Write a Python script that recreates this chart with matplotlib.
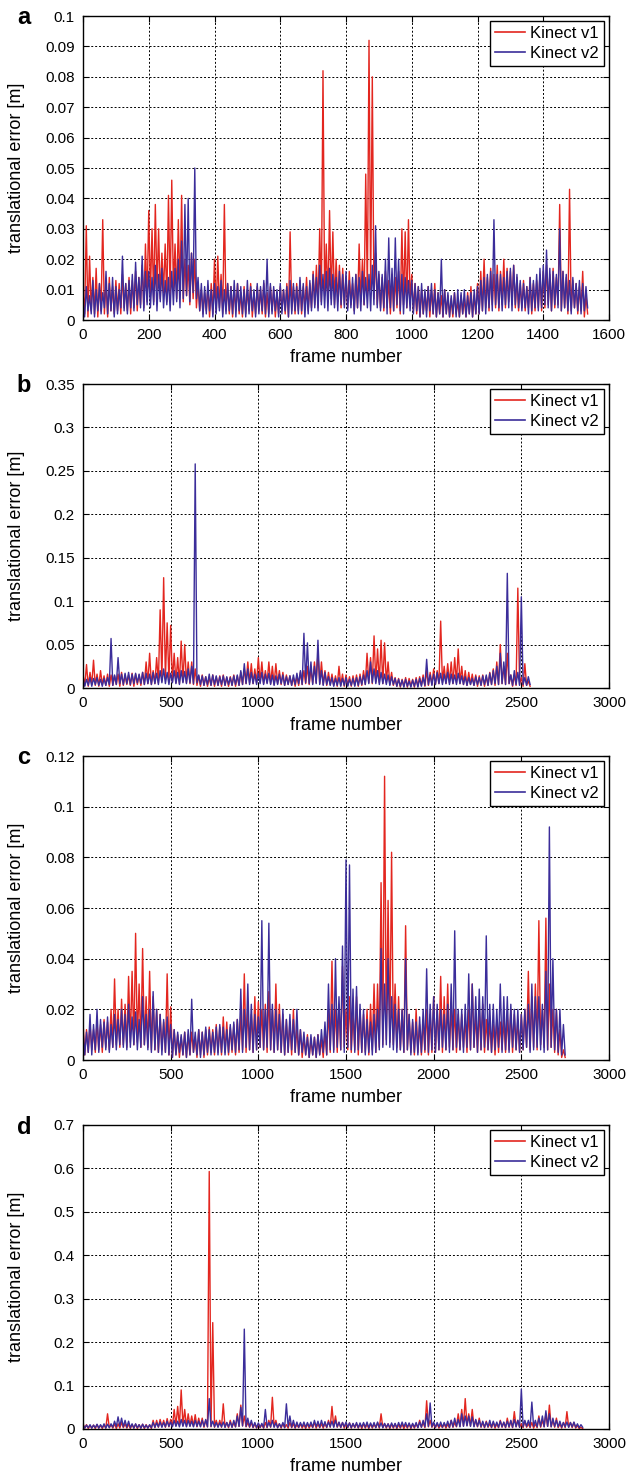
import numpy as np
import matplotlib
matplotlib.use("Agg")
import matplotlib.pyplot as plt
import matplotlib.ticker as ticker

plt.rcParams['font.family'] = ['Liberation Sans', 'DejaVu Sans']

# translational error [m] read off the figure as the upper (hi) and lower (lo)
# edge of each series inside consecutive frame bins
# panel a: bins of 10 frames
a_bin = 10
a_v1_hi = [0.009, 0.031, 0.021, 0.014, 0.017, 0.012, 0.033, 0.012, 0.014, 0.011,
           0.013, 0.012, 0.015, 0.012, 0.014, 0.013, 0.016, 0.014, 0.018, 0.025,
           0.036, 0.030, 0.038, 0.030, 0.022, 0.025, 0.041, 0.046, 0.025, 0.033,
           0.041, 0.020, 0.018, 0.022, 0.020, 0.012, 0.010, 0.009, 0.011, 0.012,
           0.020, 0.021, 0.015, 0.038, 0.012, 0.011, 0.010, 0.012, 0.009, 0.011,
           0.010, 0.012, 0.009, 0.011, 0.010, 0.012, 0.009, 0.011, 0.010, 0.009,
           0.011, 0.010, 0.012, 0.029, 0.011, 0.012, 0.013, 0.011, 0.014, 0.012,
           0.016, 0.018, 0.030, 0.082, 0.025, 0.036, 0.029, 0.020, 0.018, 0.017,
           0.014, 0.016, 0.012, 0.015, 0.025, 0.020, 0.048, 0.092, 0.080, 0.022,
           0.015, 0.014, 0.016, 0.013, 0.015, 0.014, 0.016, 0.030, 0.029, 0.033,
           0.015, 0.012, 0.011, 0.010, 0.009, 0.011, 0.010, 0.012, 0.009, 0.008,
           0.010, 0.008, 0.007, 0.009, 0.006, 0.008, 0.007, 0.009, 0.011, 0.008,
           0.012, 0.016, 0.020, 0.014, 0.017, 0.015, 0.018, 0.016, 0.020, 0.017,
           0.016, 0.018, 0.014, 0.012, 0.013, 0.011, 0.014, 0.012, 0.013, 0.015,
           0.016, 0.018, 0.015, 0.017, 0.014, 0.038, 0.016, 0.014, 0.043, 0.013,
           0.012, 0.011, 0.016, 0.008]
a_v1_lo = [0.002, 0.001, 0.003, 0.002, 0.001, 0.003, 0.002, 0.001, 0.003, 0.002,
           0.003, 0.002, 0.004, 0.003, 0.002, 0.004, 0.003, 0.005, 0.004, 0.006,
           0.008, 0.006, 0.010, 0.007, 0.009, 0.006, 0.008, 0.010, 0.007, 0.009,
           0.006, 0.008, 0.005, 0.007, 0.004, 0.003, 0.002, 0.003, 0.001, 0.002,
           0.003, 0.004, 0.002, 0.003, 0.002, 0.001, 0.003, 0.002, 0.001, 0.002,
           0.003, 0.001, 0.002, 0.003, 0.002, 0.001, 0.002, 0.003, 0.001, 0.002,
           0.003, 0.002, 0.001, 0.003, 0.002, 0.003, 0.002, 0.004, 0.003, 0.004,
           0.005, 0.004, 0.006, 0.008, 0.006, 0.007, 0.005, 0.006, 0.004, 0.005,
           0.004, 0.005, 0.003, 0.004, 0.006, 0.005, 0.008, 0.010, 0.007, 0.005,
           0.004, 0.003, 0.004, 0.002, 0.003, 0.004, 0.002, 0.005, 0.004, 0.006,
           0.003, 0.002, 0.001, 0.002, 0.003, 0.001, 0.002, 0.001, 0.002, 0.001,
           0.002, 0.001, 0.001, 0.002, 0.001, 0.002, 0.001, 0.002, 0.001, 0.002,
           0.002, 0.003, 0.004, 0.003, 0.005, 0.004, 0.003, 0.005, 0.004, 0.006,
           0.005, 0.004, 0.003, 0.004, 0.003, 0.004, 0.002, 0.003, 0.004, 0.003,
           0.004, 0.005, 0.003, 0.004, 0.005, 0.003, 0.004, 0.002, 0.003, 0.004,
           0.002, 0.003, 0.001, 0.002]
a_v2_hi = [0.006, 0.011, 0.008, 0.013, 0.010, 0.012, 0.009, 0.016, 0.012, 0.014,
           0.011, 0.010, 0.021, 0.012, 0.013, 0.015, 0.019, 0.014, 0.021, 0.016,
           0.016, 0.014, 0.018, 0.015, 0.017, 0.013, 0.014, 0.016, 0.017, 0.020,
           0.026, 0.038, 0.040, 0.022, 0.050, 0.014, 0.012, 0.011, 0.013, 0.010,
           0.012, 0.011, 0.013, 0.010, 0.012, 0.011, 0.013, 0.012, 0.011, 0.010,
           0.013, 0.011, 0.010, 0.012, 0.011, 0.013, 0.020, 0.012, 0.011, 0.010,
           0.012, 0.010, 0.011, 0.013, 0.012, 0.011, 0.014, 0.012, 0.011, 0.013,
           0.015, 0.014, 0.018, 0.015, 0.016, 0.017, 0.015, 0.014, 0.016, 0.015,
           0.016, 0.013, 0.014, 0.015, 0.014, 0.016, 0.014, 0.015, 0.018, 0.031,
           0.016, 0.015, 0.020, 0.027, 0.017, 0.027, 0.020, 0.015, 0.014, 0.013,
           0.013, 0.012, 0.011, 0.012, 0.010, 0.011, 0.012, 0.010, 0.009, 0.020,
           0.010, 0.009, 0.008, 0.009, 0.010, 0.009, 0.010, 0.008, 0.009, 0.010,
           0.011, 0.013, 0.014, 0.015, 0.016, 0.033, 0.015, 0.015, 0.014, 0.016,
           0.017, 0.018, 0.015, 0.013, 0.012, 0.011, 0.014, 0.013, 0.015, 0.017,
           0.018, 0.023, 0.017, 0.016, 0.015, 0.030, 0.016, 0.015, 0.013, 0.014,
           0.012, 0.013, 0.012, 0.011]
a_v2_lo = [0.001, 0.003, 0.002, 0.001, 0.003, 0.002, 0.004, 0.002, 0.003, 0.001,
           0.002, 0.004, 0.003, 0.002, 0.004, 0.003, 0.005, 0.004, 0.003, 0.005,
           0.004, 0.005, 0.003, 0.006, 0.004, 0.005, 0.003, 0.005, 0.006, 0.004,
           0.007, 0.008, 0.006, 0.009, 0.007, 0.003, 0.001, 0.002, 0.003, 0.001,
           0.002, 0.003, 0.001, 0.002, 0.003, 0.002, 0.001, 0.003, 0.002, 0.001,
           0.002, 0.003, 0.001, 0.002, 0.003, 0.002, 0.001, 0.002, 0.003, 0.001,
           0.002, 0.003, 0.001, 0.002, 0.003, 0.002, 0.003, 0.001, 0.002, 0.003,
           0.004, 0.003, 0.005, 0.004, 0.003, 0.005, 0.004, 0.003, 0.005, 0.004,
           0.003, 0.004, 0.002, 0.004, 0.003, 0.005, 0.004, 0.003, 0.005, 0.004,
           0.003, 0.004, 0.002, 0.004, 0.003, 0.005, 0.003, 0.002, 0.004, 0.003,
           0.002, 0.003, 0.001, 0.002, 0.001, 0.003, 0.002, 0.001, 0.002, 0.001,
           0.002, 0.001, 0.002, 0.001, 0.001, 0.002, 0.001, 0.002, 0.001, 0.002,
           0.002, 0.003, 0.002, 0.004, 0.003, 0.005, 0.004, 0.003, 0.005, 0.004,
           0.003, 0.005, 0.004, 0.003, 0.004, 0.002, 0.003, 0.004, 0.003, 0.004,
           0.005, 0.004, 0.003, 0.005, 0.004, 0.003, 0.004, 0.003, 0.002, 0.004,
           0.003, 0.002, 0.003, 0.004]

# panel b: bins of 20 frames
b_bin = 20
b_v1_hi = [0.015, 0.027, 0.018, 0.032, 0.016, 0.020, 0.014, 0.016, 0.015, 0.014,
           0.016, 0.018, 0.015, 0.015, 0.017, 0.016, 0.015, 0.018, 0.030, 0.040,
           0.020, 0.035, 0.090, 0.127, 0.075, 0.072, 0.040, 0.035, 0.054, 0.050,
           0.030, 0.030, 0.022, 0.014, 0.015, 0.013, 0.012, 0.015, 0.013, 0.014,
           0.015, 0.012, 0.013, 0.015, 0.014, 0.018, 0.022, 0.030, 0.028, 0.022,
           0.035, 0.030, 0.020, 0.030, 0.025, 0.028, 0.020, 0.018, 0.015, 0.014,
           0.012, 0.013, 0.018, 0.020, 0.025, 0.022, 0.030, 0.040, 0.030, 0.020,
           0.018, 0.016, 0.014, 0.025, 0.016, 0.015, 0.013, 0.014, 0.015, 0.016,
           0.020, 0.040, 0.035, 0.060, 0.045, 0.055, 0.052, 0.030, 0.018, 0.012,
           0.011, 0.010, 0.012, 0.011, 0.010, 0.012, 0.013, 0.015, 0.020, 0.018,
           0.022, 0.020, 0.077, 0.025, 0.028, 0.030, 0.035, 0.045, 0.025, 0.020,
           0.018, 0.016, 0.015, 0.014, 0.015, 0.013, 0.018, 0.022, 0.030, 0.050,
           0.025, 0.040, 0.015, 0.015, 0.115, 0.012, 0.028, 0.008]
b_v1_lo = [0.003, 0.002, 0.004, 0.003, 0.002, 0.004, 0.003, 0.002, 0.003, 0.004,
           0.002, 0.003, 0.004, 0.003, 0.002, 0.004, 0.003, 0.004, 0.005, 0.004,
           0.005, 0.006, 0.008, 0.010, 0.008, 0.007, 0.006, 0.005, 0.007, 0.006,
           0.005, 0.004, 0.003, 0.002, 0.003, 0.002, 0.003, 0.002, 0.003, 0.002,
           0.003, 0.002, 0.003, 0.002, 0.003, 0.004, 0.005, 0.006, 0.005, 0.006,
           0.007, 0.005, 0.006, 0.005, 0.004, 0.005, 0.004, 0.003, 0.004, 0.003,
           0.002, 0.003, 0.004, 0.005, 0.004, 0.005, 0.006, 0.005, 0.004, 0.003,
           0.004, 0.003, 0.002, 0.003, 0.002, 0.003, 0.002, 0.003, 0.002, 0.003,
           0.004, 0.006, 0.005, 0.007, 0.006, 0.005, 0.006, 0.004, 0.003, 0.002,
           0.001, 0.002, 0.001, 0.002, 0.001, 0.002, 0.003, 0.002, 0.003, 0.004,
           0.004, 0.005, 0.006, 0.005, 0.006, 0.005, 0.006, 0.005, 0.004, 0.003,
           0.004, 0.003, 0.002, 0.003, 0.002, 0.003, 0.004, 0.003, 0.004, 0.005,
           0.004, 0.005, 0.002, 0.003, 0.004, 0.002, 0.003, 0.002]
b_v2_hi = [0.012, 0.010, 0.012, 0.011, 0.012, 0.010, 0.011, 0.012, 0.057, 0.015,
           0.035, 0.016, 0.017, 0.018, 0.016, 0.017, 0.016, 0.018, 0.017, 0.016,
           0.018, 0.017, 0.020, 0.022, 0.018, 0.017, 0.020, 0.018, 0.020, 0.019,
           0.022, 0.025, 0.258, 0.015, 0.014, 0.013, 0.016, 0.015, 0.014, 0.013,
           0.014, 0.013, 0.012, 0.014, 0.015, 0.020, 0.028, 0.022, 0.018, 0.016,
           0.017, 0.018, 0.016, 0.017, 0.015, 0.014, 0.016, 0.015, 0.013, 0.014,
           0.015, 0.017, 0.020, 0.063, 0.052, 0.030, 0.025, 0.055, 0.020, 0.018,
           0.013, 0.012, 0.011, 0.012, 0.011, 0.012, 0.010, 0.011, 0.012, 0.013,
           0.015, 0.020, 0.030, 0.022, 0.020, 0.018, 0.016, 0.015, 0.013, 0.011,
           0.010, 0.009, 0.010, 0.008, 0.009, 0.010, 0.011, 0.012, 0.033, 0.015,
           0.016, 0.018, 0.017, 0.016, 0.018, 0.016, 0.015, 0.017, 0.014, 0.013,
           0.012, 0.011, 0.013, 0.012, 0.014, 0.015, 0.017, 0.020, 0.025, 0.040,
           0.030, 0.132, 0.015, 0.020, 0.018, 0.105, 0.012, 0.013]
b_v2_lo = [0.002, 0.003, 0.002, 0.004, 0.003, 0.002, 0.003, 0.004, 0.003, 0.004,
           0.005, 0.004, 0.005, 0.004, 0.005, 0.006, 0.005, 0.004, 0.005, 0.004,
           0.005, 0.004, 0.006, 0.005, 0.004, 0.006, 0.005, 0.004, 0.006, 0.005,
           0.006, 0.005, 0.006, 0.004, 0.003, 0.004, 0.003, 0.004, 0.003, 0.004,
           0.003, 0.004, 0.003, 0.004, 0.003, 0.004, 0.005, 0.004, 0.005, 0.004,
           0.005, 0.004, 0.005, 0.004, 0.003, 0.004, 0.005, 0.003, 0.004, 0.003,
           0.004, 0.005, 0.004, 0.006, 0.005, 0.004, 0.005, 0.004, 0.003, 0.004,
           0.003, 0.002, 0.003, 0.002, 0.003, 0.002, 0.003, 0.002, 0.003, 0.004,
           0.004, 0.005, 0.006, 0.005, 0.004, 0.005, 0.004, 0.003, 0.004, 0.002,
           0.002, 0.001, 0.002, 0.001, 0.002, 0.001, 0.002, 0.003, 0.004, 0.003,
           0.004, 0.005, 0.004, 0.005, 0.004, 0.005, 0.004, 0.005, 0.004, 0.003,
           0.004, 0.003, 0.004, 0.003, 0.004, 0.003, 0.004, 0.005, 0.004, 0.005,
           0.004, 0.005, 0.003, 0.004, 0.003, 0.004, 0.003, 0.004]

# panel c: bins of 20 frames
c_bin = 20
c_v1_hi = [0.015, 0.012, 0.014, 0.012, 0.015, 0.014, 0.016, 0.015, 0.020, 0.032,
           0.020, 0.024, 0.022, 0.033, 0.035, 0.050, 0.030, 0.044, 0.025, 0.035,
           0.025, 0.020, 0.018, 0.015, 0.034, 0.021, 0.012, 0.010, 0.009, 0.011,
           0.010, 0.011, 0.009, 0.012, 0.011, 0.012, 0.013, 0.012, 0.014, 0.013,
           0.017, 0.015, 0.013, 0.014, 0.016, 0.018, 0.034, 0.020, 0.018, 0.025,
           0.023, 0.020, 0.022, 0.027, 0.020, 0.030, 0.022, 0.018, 0.016, 0.015,
           0.020, 0.013, 0.012, 0.009, 0.010, 0.008, 0.009, 0.010, 0.008, 0.011,
           0.020, 0.039, 0.020, 0.022, 0.037, 0.020, 0.025, 0.018, 0.025, 0.020,
           0.018, 0.020, 0.022, 0.030, 0.030, 0.070, 0.112, 0.063, 0.082, 0.030,
           0.025, 0.020, 0.053, 0.018, 0.015, 0.020, 0.014, 0.016, 0.020, 0.018,
           0.025, 0.020, 0.033, 0.025, 0.030, 0.020, 0.020, 0.018, 0.018, 0.016,
           0.020, 0.030, 0.018, 0.020, 0.022, 0.016, 0.015, 0.014, 0.016, 0.015,
           0.016, 0.017, 0.020, 0.018, 0.016, 0.018, 0.020, 0.035, 0.025, 0.030,
           0.055, 0.020, 0.056, 0.030, 0.020, 0.020, 0.012, 0.004]
c_v1_lo = [0.002, 0.003, 0.004, 0.003, 0.004, 0.003, 0.005, 0.004, 0.005, 0.006,
           0.005, 0.006, 0.005, 0.007, 0.006, 0.007, 0.005, 0.006, 0.005, 0.004,
           0.004, 0.003, 0.004, 0.003, 0.002, 0.001, 0.002, 0.001, 0.002, 0.001,
           0.002, 0.003, 0.001, 0.002, 0.001, 0.002, 0.003, 0.002, 0.003, 0.002,
           0.003, 0.002, 0.003, 0.002, 0.003, 0.004, 0.003, 0.004, 0.003, 0.004,
           0.005, 0.004, 0.003, 0.004, 0.003, 0.004, 0.003, 0.002, 0.003, 0.002,
           0.003, 0.002, 0.001, 0.002, 0.001, 0.002, 0.001, 0.002, 0.001, 0.002,
           0.003, 0.004, 0.003, 0.004, 0.005, 0.004, 0.003, 0.004, 0.002, 0.003,
           0.003, 0.002, 0.004, 0.003, 0.005, 0.006, 0.008, 0.007, 0.006, 0.005,
           0.004, 0.003, 0.004, 0.003, 0.002, 0.003, 0.002, 0.003, 0.002, 0.003,
           0.003, 0.004, 0.003, 0.004, 0.005, 0.004, 0.003, 0.004, 0.005, 0.003,
           0.004, 0.005, 0.003, 0.004, 0.003, 0.004, 0.003, 0.002, 0.003, 0.004,
           0.003, 0.004, 0.003, 0.004, 0.003, 0.004, 0.005, 0.004, 0.005, 0.004,
           0.006, 0.005, 0.004, 0.005, 0.003, 0.002, 0.001, 0.001]
c_v2_hi = [0.012, 0.011, 0.018, 0.014, 0.020, 0.016, 0.015, 0.017, 0.014, 0.018,
           0.016, 0.020, 0.018, 0.022, 0.017, 0.019, 0.016, 0.025, 0.018, 0.020,
           0.027, 0.020, 0.018, 0.016, 0.017, 0.014, 0.012, 0.011, 0.010, 0.011,
           0.012, 0.024, 0.011, 0.012, 0.011, 0.013, 0.012, 0.011, 0.013, 0.014,
           0.013, 0.012, 0.014, 0.015, 0.016, 0.028, 0.020, 0.030, 0.022, 0.018,
           0.017, 0.055, 0.020, 0.054, 0.022, 0.020, 0.018, 0.020, 0.016, 0.018,
           0.016, 0.020, 0.012, 0.011, 0.009, 0.010, 0.009, 0.010, 0.012, 0.015,
           0.030, 0.022, 0.040, 0.025, 0.045, 0.079, 0.077, 0.028, 0.029, 0.022,
           0.020, 0.016, 0.015, 0.018, 0.020, 0.044, 0.030, 0.040, 0.025, 0.022,
           0.020, 0.020, 0.040, 0.018, 0.016, 0.015, 0.017, 0.020, 0.036, 0.022,
           0.025, 0.022, 0.020, 0.018, 0.022, 0.030, 0.051, 0.020, 0.020, 0.022,
           0.034, 0.030, 0.025, 0.028, 0.025, 0.049, 0.022, 0.022, 0.020, 0.030,
           0.025, 0.025, 0.022, 0.020, 0.020, 0.018, 0.020, 0.022, 0.030, 0.025,
           0.025, 0.022, 0.035, 0.092, 0.040, 0.020, 0.020, 0.014]
c_v2_lo = [0.002, 0.003, 0.002, 0.004, 0.003, 0.005, 0.004, 0.003, 0.005, 0.004,
           0.006, 0.005, 0.004, 0.005, 0.006, 0.004, 0.005, 0.006, 0.004, 0.003,
           0.004, 0.003, 0.002, 0.003, 0.002, 0.001, 0.002, 0.003, 0.002, 0.001,
           0.002, 0.003, 0.002, 0.001, 0.002, 0.003, 0.002, 0.003, 0.002, 0.003,
           0.002, 0.003, 0.004, 0.003, 0.004, 0.003, 0.005, 0.004, 0.003, 0.004,
           0.005, 0.004, 0.005, 0.004, 0.003, 0.004, 0.003, 0.002, 0.003, 0.004,
           0.003, 0.002, 0.003, 0.002, 0.001, 0.002, 0.001, 0.002, 0.003, 0.002,
           0.004, 0.003, 0.005, 0.004, 0.003, 0.005, 0.004, 0.003, 0.004, 0.003,
           0.002, 0.003, 0.002, 0.003, 0.004, 0.005, 0.006, 0.005, 0.004, 0.003,
           0.004, 0.003, 0.004, 0.002, 0.003, 0.002, 0.003, 0.004, 0.003, 0.004,
           0.003, 0.004, 0.005, 0.004, 0.003, 0.004, 0.005, 0.004, 0.003, 0.005,
           0.004, 0.005, 0.003, 0.004, 0.005, 0.004, 0.003, 0.004, 0.005, 0.003,
           0.004, 0.003, 0.005, 0.004, 0.003, 0.004, 0.005, 0.003, 0.004, 0.005,
           0.004, 0.003, 0.004, 0.005, 0.004, 0.003, 0.002, 0.002]

# panel d: bins of 20 frames
d_bin = 20
d_v1_hi = [0.012, 0.010, 0.008, 0.009, 0.010, 0.008, 0.009, 0.035, 0.010, 0.012,
           0.012, 0.015, 0.012, 0.011, 0.010, 0.011, 0.010, 0.011, 0.010, 0.009,
           0.020, 0.020, 0.022, 0.020, 0.024, 0.022, 0.045, 0.052, 0.090, 0.045,
           0.035, 0.030, 0.033, 0.025, 0.025, 0.020, 0.593, 0.245, 0.020, 0.020,
           0.058, 0.015, 0.020, 0.015, 0.035, 0.055, 0.030, 0.015, 0.015, 0.012,
           0.012, 0.010, 0.015, 0.020, 0.073, 0.020, 0.012, 0.012, 0.010, 0.015,
           0.012, 0.010, 0.012, 0.010, 0.012, 0.011, 0.015, 0.012, 0.012, 0.013,
           0.020, 0.052, 0.030, 0.015, 0.015, 0.012, 0.014, 0.012, 0.012, 0.011,
           0.012, 0.011, 0.012, 0.011, 0.014, 0.035, 0.012, 0.012, 0.011, 0.012,
           0.010, 0.011, 0.010, 0.012, 0.011, 0.012, 0.020, 0.015, 0.065, 0.020,
           0.012, 0.012, 0.010, 0.012, 0.011, 0.020, 0.015, 0.035, 0.045, 0.070,
           0.035, 0.045, 0.020, 0.025, 0.015, 0.018, 0.012, 0.015, 0.012, 0.020,
           0.015, 0.025, 0.018, 0.040, 0.020, 0.012, 0.018, 0.012, 0.015, 0.012,
           0.030, 0.020, 0.035, 0.055, 0.020, 0.025, 0.012, 0.015, 0.040, 0.015,
           0.015, 0.008, 0.004]
d_v1_lo = [0.002, 0.001, 0.002, 0.001, 0.002, 0.001, 0.002, 0.003, 0.002, 0.001,
           0.002, 0.003, 0.002, 0.001, 0.002, 0.001, 0.002, 0.001, 0.002, 0.001,
           0.003, 0.004, 0.005, 0.004, 0.005, 0.006, 0.008, 0.007, 0.008, 0.006,
           0.007, 0.006, 0.005, 0.006, 0.004, 0.005, 0.005, 0.004, 0.005, 0.004,
           0.004, 0.003, 0.004, 0.005, 0.006, 0.007, 0.005, 0.004, 0.003, 0.002,
           0.003, 0.002, 0.003, 0.004, 0.005, 0.003, 0.002, 0.003, 0.002, 0.003,
           0.002, 0.003, 0.002, 0.001, 0.002, 0.003, 0.002, 0.003, 0.002, 0.003,
           0.004, 0.005, 0.004, 0.003, 0.002, 0.003, 0.002, 0.003, 0.002, 0.001,
           0.002, 0.001, 0.002, 0.003, 0.002, 0.003, 0.002, 0.001, 0.002, 0.001,
           0.002, 0.001, 0.002, 0.001, 0.002, 0.003, 0.004, 0.003, 0.005, 0.004,
           0.003, 0.002, 0.003, 0.002, 0.003, 0.004, 0.005, 0.006, 0.007, 0.008,
           0.007, 0.006, 0.005, 0.004, 0.003, 0.004, 0.003, 0.002, 0.003, 0.004,
           0.003, 0.004, 0.003, 0.005, 0.004, 0.003, 0.004, 0.003, 0.002, 0.003,
           0.004, 0.005, 0.006, 0.005, 0.004, 0.003, 0.002, 0.003, 0.004, 0.003,
           0.002, 0.001, 0.001]
d_v2_hi = [0.010, 0.009, 0.010, 0.009, 0.011, 0.010, 0.012, 0.011, 0.012, 0.018,
           0.028, 0.025, 0.020, 0.018, 0.012, 0.012, 0.010, 0.011, 0.009, 0.010,
           0.015, 0.014, 0.016, 0.015, 0.018, 0.016, 0.020, 0.018, 0.022, 0.020,
           0.020, 0.018, 0.020, 0.018, 0.020, 0.022, 0.070, 0.018, 0.015, 0.014,
           0.016, 0.015, 0.016, 0.020, 0.030, 0.050, 0.230, 0.025, 0.020, 0.015,
           0.014, 0.013, 0.045, 0.015, 0.020, 0.014, 0.012, 0.015, 0.058, 0.030,
           0.020, 0.016, 0.015, 0.016, 0.015, 0.016, 0.020, 0.018, 0.020, 0.017,
           0.016, 0.018, 0.020, 0.016, 0.015, 0.016, 0.014, 0.013, 0.015, 0.014,
           0.015, 0.016, 0.014, 0.015, 0.016, 0.014, 0.013, 0.012, 0.014, 0.013,
           0.015, 0.016, 0.015, 0.014, 0.013, 0.015, 0.016, 0.020, 0.035, 0.060,
           0.016, 0.015, 0.016, 0.015, 0.018, 0.020, 0.025, 0.022, 0.035, 0.030,
           0.030, 0.028, 0.022, 0.020, 0.018, 0.016, 0.020, 0.018, 0.016, 0.018,
           0.016, 0.018, 0.020, 0.022, 0.020, 0.092, 0.020, 0.020, 0.062, 0.020,
           0.025, 0.030, 0.042, 0.035, 0.025, 0.020, 0.018, 0.015, 0.016, 0.015,
           0.016, 0.012, 0.010]
d_v2_lo = [0.002, 0.003, 0.002, 0.003, 0.002, 0.003, 0.002, 0.003, 0.004, 0.005,
           0.006, 0.005, 0.004, 0.003, 0.002, 0.003, 0.002, 0.003, 0.002, 0.003,
           0.004, 0.005, 0.004, 0.005, 0.006, 0.005, 0.006, 0.005, 0.006, 0.005,
           0.006, 0.005, 0.006, 0.005, 0.006, 0.005, 0.006, 0.005, 0.004, 0.005,
           0.004, 0.005, 0.004, 0.005, 0.006, 0.007, 0.006, 0.005, 0.004, 0.003,
           0.004, 0.003, 0.004, 0.005, 0.004, 0.003, 0.004, 0.003, 0.005, 0.004,
           0.003, 0.004, 0.005, 0.004, 0.005, 0.004, 0.005, 0.004, 0.005, 0.004,
           0.005, 0.004, 0.005, 0.004, 0.005, 0.004, 0.003, 0.004, 0.003, 0.004,
           0.004, 0.003, 0.004, 0.003, 0.004, 0.003, 0.004, 0.003, 0.004, 0.003,
           0.004, 0.005, 0.004, 0.003, 0.004, 0.003, 0.004, 0.005, 0.006, 0.005,
           0.004, 0.005, 0.004, 0.005, 0.004, 0.005, 0.006, 0.005, 0.006, 0.007,
           0.006, 0.005, 0.006, 0.005, 0.004, 0.005, 0.004, 0.005, 0.004, 0.005,
           0.004, 0.005, 0.004, 0.005, 0.004, 0.005, 0.006, 0.005, 0.006, 0.005,
           0.006, 0.005, 0.006, 0.005, 0.006, 0.005, 0.004, 0.005, 0.004, 0.005,
           0.004, 0.003, 0.004]

panels = [
    ('a', a_bin, a_v1_hi, a_v1_lo, a_v2_hi, a_v2_lo, 1600, 200, 0.1, 0.01),
    ('b', b_bin, b_v1_hi, b_v1_lo, b_v2_hi, b_v2_lo, 3000, 500, 0.35, 0.05),
    ('c', c_bin, c_v1_hi, c_v1_lo, c_v2_hi, c_v2_lo, 3000, 500, 0.12, 0.02),
    ('d', d_bin, d_v1_hi, d_v1_lo, d_v2_hi, d_v2_lo, 3000, 500, 0.7, 0.1),
]

red = '#e3261f'
blue = '#3b2d9a'


def trace(step, hi, lo):
    # hi at the start of each bin, lo in its middle
    f = np.arange(len(hi)) * step
    frames = np.column_stack([f, f + step / 2]).ravel()
    vals = np.column_stack([hi, lo]).ravel()
    return frames, vals


W, H = 626, 1475
fig = plt.figure(figsize=(W / 100, H / 100), dpi=100)
tops = [16, 384, 756, 1125]
ax_h = 304
left, right = 83, 609

for (lab, step, h1, l1, h2, l2, xmax, xstep, ymax, ystep), top in zip(panels, tops):
    ax = fig.add_axes([left / W, 1 - (top + ax_h) / H, (right - left) / W, ax_h / H])
    x1, y1 = trace(step, h1, l1)
    x2, y2 = trace(step, h2, l2)
    ax.plot(x1, y1, color=red, lw=1.0, label='Kinect v1')
    ax.plot(x2, y2, color=blue, lw=1.0, label='Kinect v2')
    ax.set_xlim(0, xmax)
    ax.set_ylim(0, ymax)
    ax.set_xticks(np.arange(0, xmax + 1, xstep))
    ax.set_yticks(np.arange(0, ymax + ystep / 2, ystep))
    ax.yaxis.set_major_formatter(ticker.FuncFormatter(lambda v, p: f"{round(v, 4):g}"))
    ax.grid(True, color='black', linestyle=(0, (2, 2)), linewidth=0.7)
    ax.tick_params(direction='in', top=True, right=True, length=4, labelsize=11, pad=6)
    for s in ax.spines.values():
        s.set_linewidth(1.0)
    ax.set_xlabel('frame number', fontsize=13, labelpad=5)
    ax.set_ylabel('translational error [m]', fontsize=13)
    ax.yaxis.set_label_coords(-0.11, 0.5)
    leg = ax.legend(loc='upper right', fontsize=12, fancybox=False, framealpha=1,
                    edgecolor='black', borderaxespad=0.3, handlelength=1.8,
                    borderpad=0.3, labelspacing=0.3, handletextpad=0.3)
    for h in leg.get_lines():
        h.set_linewidth(1.2)
    leg.get_frame().set_linewidth(1.0)
    fig.text(24 / W, 1 - (top + 2) / H, lab, fontsize=17, fontweight='bold',
             ha='center', va='center')

fig.savefig('out.png', dpi=100)
